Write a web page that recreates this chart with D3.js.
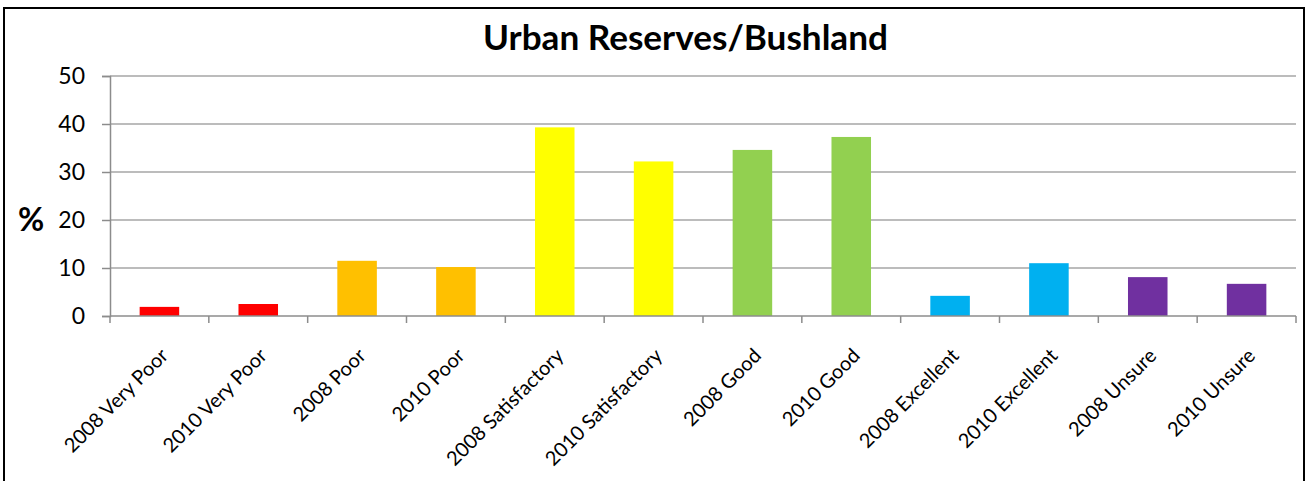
<!DOCTYPE html>
<html>
<head>
<meta charset="utf-8">
<script src="https://cdn.jsdelivr.net/npm/d3@7"></script>
<style>
  html, body { margin: 0; padding: 0; background: #fff; }
  svg { display: block; }
</style>
</head>
<body>
<svg id="chart" width="1309" height="481"></svg>
<script>
// ---- data ----
const categories = ["2008 Very Poor", "2010 Very Poor", "2008 Poor", "2010 Poor",
  "2008 Satisfactory", "2010 Satisfactory", "2008 Good", "2010 Good",
  "2008 Excellent", "2010 Excellent", "2008 Unsure", "2010 Unsure"];
const values = [1.9, 2.5, 11.5, 10.2, 39.3, 32.2, 34.6, 37.3, 4.2, 11.0, 8.1, 6.7];
const groups = ["Very Poor", "Very Poor", "Poor", "Poor", "Satisfactory", "Satisfactory",
  "Good", "Good", "Excellent", "Excellent", "Unsure", "Unsure"];
const yTicks = [0, 10, 20, 30, 40, 50];
const title = "Urban Reserves/Bushland";
const yLabel = "%";

// ---- style ----
const groupOrder = ["Very Poor", "Poor", "Satisfactory", "Good", "Excellent", "Unsure"];
const palette = ["#FF0000", "#FFC000", "#FFFF00", "#92D050", "#00B0F0", "#7030A0"];
const FONT = "Lato, 'Open Sans', sans-serif";

const svg = d3.select("#chart");
const W = 1309, H = 481;
const plot = { left: 110, right: 1296, top: 76, bottom: 316 };

// frame
svg.append("rect")
  .attr("x", 4).attr("y", 8)
  .attr("width", 1300).attr("height", 490)
  .attr("fill", "none").attr("stroke", "#000").attr("stroke-width", 2);

const x = d3.scaleBand().domain(categories)
  .range([plot.left, plot.right]).paddingInner(0.6).paddingOuter(0.3);
const y = d3.scaleLinear().domain([0, 50]).range([plot.bottom, plot.top]);
const color = d3.scaleOrdinal().domain(groupOrder).range(palette);

// gridlines
svg.append("g").selectAll("line").data(yTicks.filter(d => d > 0)).join("line")
  .attr("x1", plot.left).attr("x2", plot.right)
  .attr("y1", d => y(d)).attr("y2", d => y(d))
  .attr("stroke", "#a6a6a6").attr("stroke-width", 1.5);

// y axis
const yAxis = svg.append("g").attr("transform", `translate(${plot.left},0)`)
  .call(d3.axisLeft(y).tickValues(yTicks).tickSize(8).tickPadding(17).tickFormat(d3.format("d")));
yAxis.select(".domain").attr("stroke", "#8c8c8c").attr("stroke-width", 1.5);
yAxis.selectAll(".tick line").attr("stroke", "#8c8c8c").attr("stroke-width", 1.5);
yAxis.selectAll(".tick text").attr("font-family", FONT).attr("font-size", 23).attr("fill", "#000");

// bars
svg.append("g").selectAll("rect").data(categories).join("rect")
  .attr("x", d => x(d))
  .attr("width", x.bandwidth())
  .attr("y", (d, i) => y(values[i]))
  .attr("height", (d, i) => y(0) - y(values[i]))
  .attr("fill", (d, i) => color(groups[i]));

// x axis line and boundary ticks
const step = x.step();
const gap = (step - x.bandwidth()) / 2;
const boundaries = categories.map(c => x(c) - gap).concat([x(categories[categories.length - 1]) + x.bandwidth() + gap]);
const xg = svg.append("g");
xg.append("line").attr("x1", plot.left).attr("x2", plot.right)
  .attr("y1", plot.bottom).attr("y2", plot.bottom)
  .attr("stroke", "#8c8c8c").attr("stroke-width", 1.5);
xg.selectAll("line.tk").data(boundaries).join("line").attr("class", "tk")
  .attr("x1", d => d).attr("x2", d => d)
  .attr("y1", plot.bottom).attr("y2", plot.bottom + 7)
  .attr("stroke", "#8c8c8c").attr("stroke-width", 1.5);

// x labels
xg.selectAll("text").data(categories).join("text")
  .attr("transform", d => `translate(${x(d) + x.bandwidth() / 2 + 5},${plot.bottom + 36}) rotate(-45)`)
  .attr("text-anchor", "end").attr("dy", "0.35em")
  .attr("font-family", FONT).attr("font-size", 20).attr("fill", "#000")
  .text(d => d);

// y label
svg.append("text").attr("x", 31).attr("y", 220).attr("dy", "0.35em")
  .attr("text-anchor", "middle").attr("font-family", FONT).attr("font-weight", "bold")
  .attr("font-size", 32).attr("fill", "#000").text(yLabel);

// title
const t = svg.append("text").attr("x", 685.5).attr("y", 50)
  .attr("text-anchor", "middle").attr("font-family", FONT).attr("font-weight", "bold")
  .attr("font-size", 32).attr("fill", "#000").text(title);
const tl = t.node().getComputedTextLength();
t.attr("font-size", 32 * 405 / tl);
</script>
</body>
</html>
